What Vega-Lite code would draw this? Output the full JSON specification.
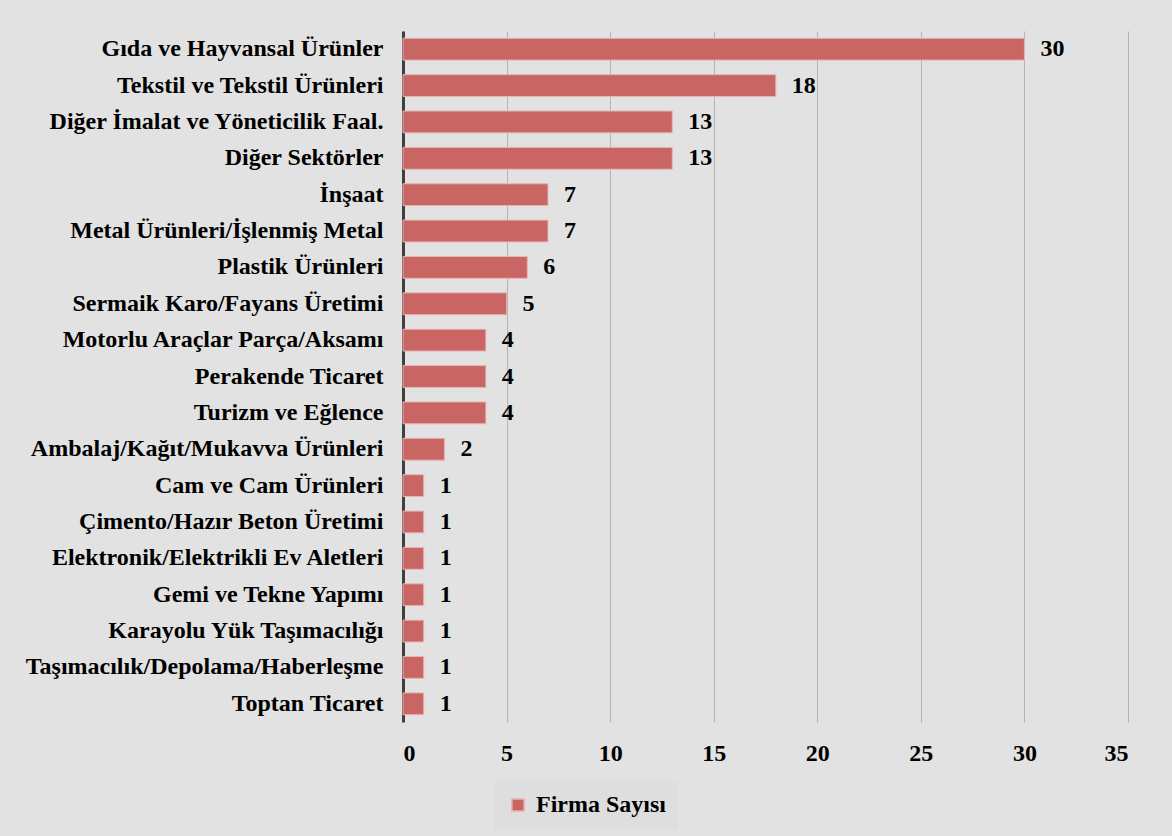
{
  "$schema": "https://vega.github.io/schema/vega-lite/v6.json",
  "autosize": "none",
  "width": 725,
  "height": 691,
  "padding": {"left": 403, "top": 31, "right": 44, "bottom": 114},
  "background": "#e2e2e2",
  "config": {
    "view": {"stroke": null},
    "font": "Liberation Serif"
  },
  "data": {
    "values": [
      {"sektor": "Gıda ve Hayvansal Ürünler", "seri": "Firma Sayısı", "sayi": 30},
      {"sektor": "Tekstil ve Tekstil Ürünleri", "seri": "Firma Sayısı", "sayi": 18},
      {"sektor": "Diğer İmalat ve Yöneticilik Faal.", "seri": "Firma Sayısı", "sayi": 13},
      {"sektor": "Diğer Sektörler", "seri": "Firma Sayısı", "sayi": 13},
      {"sektor": "İnşaat", "seri": "Firma Sayısı", "sayi": 7},
      {"sektor": "Metal Ürünleri/İşlenmiş Metal", "seri": "Firma Sayısı", "sayi": 7},
      {"sektor": "Plastik Ürünleri", "seri": "Firma Sayısı", "sayi": 6},
      {"sektor": "Sermaik Karo/Fayans Üretimi", "seri": "Firma Sayısı", "sayi": 5},
      {"sektor": "Motorlu Araçlar Parça/Aksamı", "seri": "Firma Sayısı", "sayi": 4},
      {"sektor": "Perakende Ticaret", "seri": "Firma Sayısı", "sayi": 4},
      {"sektor": "Turizm ve Eğlence", "seri": "Firma Sayısı", "sayi": 4},
      {"sektor": "Ambalaj/Kağıt/Mukavva Ürünleri", "seri": "Firma Sayısı", "sayi": 2},
      {"sektor": "Cam ve Cam Ürünleri", "seri": "Firma Sayısı", "sayi": 1},
      {"sektor": "Çimento/Hazır Beton Üretimi", "seri": "Firma Sayısı", "sayi": 1},
      {"sektor": "Elektronik/Elektrikli Ev Aletleri", "seri": "Firma Sayısı", "sayi": 1},
      {"sektor": "Gemi ve Tekne Yapımı", "seri": "Firma Sayısı", "sayi": 1},
      {"sektor": "Karayolu Yük Taşımacılığı", "seri": "Firma Sayısı", "sayi": 1},
      {"sektor": "Taşımacılık/Depolama/Haberleşme", "seri": "Firma Sayısı", "sayi": 1},
      {"sektor": "Toptan Ticaret", "seri": "Firma Sayısı", "sayi": 1}
    ]
  },
  "encoding": {
    "y": {
      "field": "sektor",
      "type": "nominal",
      "sort": null,
      "scale": {"paddingInner": 0.4, "paddingOuter": 0.2},
      "axis": {
        "title": null,
        "ticks": false,
        "domainColor": "#404040",
        "domainWidth": 3,
        "labelFont": "Liberation Serif",
        "labelFontSize": 24,
        "labelFontWeight": "bold",
        "labelColor": "#000000",
        "labelPadding": 20,
        "labelLimit": 420
      }
    },
    "x": {
      "field": "sayi",
      "type": "quantitative",
      "scale": {"domain": [0, 35], "nice": false},
      "axis": {
        "title": null,
        "values": [0, 5, 10, 15, 20, 25, 30, 35],
        "ticks": false,
        "domain": false,
        "gridColor": "#b4b4b4",
        "gridWidth": 1,
        "labelFont": "Liberation Serif",
        "labelFontSize": 24,
        "labelFontWeight": "bold",
        "labelColor": "#000000",
        "labelPadding": 19
      }
    }
  },
  "layer": [
    {
      "mark": {"type": "bar", "stroke": "#e8b4b4", "strokeWidth": 1},
      "encoding": {
        "color": {
          "field": "seri",
          "type": "nominal",
          "scale": {"range": ["#c96664"]},
          "legend": {
            "title": null,
            "orient": "none",
            "legendX": 91,
            "legendY": 750,
            "padding": 12,
            "fillColor": "#dedede",
            "symbolType": "square",
            "symbolSize": 150,
            "symbolStrokeColor": "#e8b4b4",
            "labelFont": "Liberation Serif",
            "labelFontSize": 24,
            "labelFontWeight": "bold",
            "labelColor": "#000000",
            "labelOffset": 6
          }
        }
      }
    },
    {
      "mark": {
        "type": "text",
        "align": "left",
        "dx": 16,
        "font": "Liberation Serif",
        "fontSize": 24,
        "fontWeight": "bold",
        "color": "#000000"
      },
      "encoding": {"text": {"field": "sayi", "type": "quantitative"}}
    }
  ]
}
